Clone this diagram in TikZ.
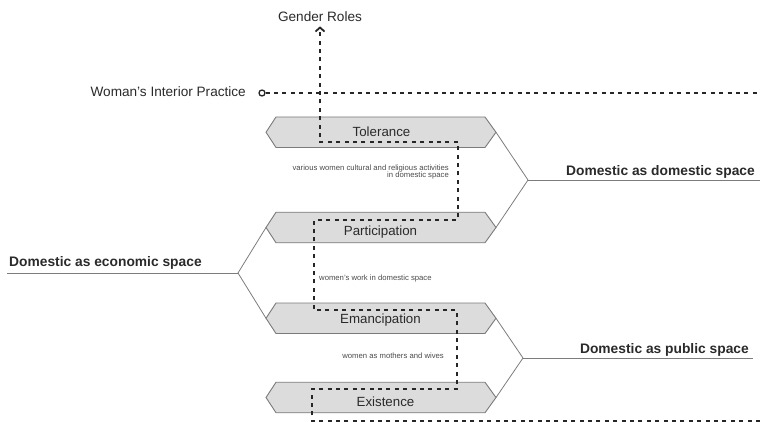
\documentclass[tikz,border=0pt]{standalone}
\usepackage{fontspec}
\setmainfont{Liberation Sans}
\usetikzlibrary{arrows.meta}
\definecolor{txt}{HTML}{2A2A2A}
\definecolor{hexfill}{HTML}{DCDCDC}
\definecolor{hexline}{HTML}{7A7A7A}
\definecolor{branch}{HTML}{7C7C7C}
\tikzset{
  hexbox/.style={fill=hexfill, draw=hexline, line width=0.9pt},
  hexlabel/.style={inner sep=0pt, font=\fontsize{13.3}{15}\selectfont, text=txt, anchor=base},
  biglabel/.style={inner sep=0pt, font=\fontsize{13.6}{16}\selectfont, text=txt},
  boldlabel/.style={inner sep=0pt, font=\fontsize{13.8}{16}\selectfont\bfseries, text=txt},
  smalllabel/.style={inner sep=0pt, font=\fontsize{7.7}{7.5}\selectfont, text=txt!85},
  branchline/.style={draw=branch, line width=0.8pt},
  flow/.style={draw=black!85, line width=1.9pt, dash pattern=on 4pt off 4.4pt},
}
% name, centre y, text baseline, text centre x, text
\newcommand\hexnode[5]{%
  \filldraw[hexbox] (266,#2) -- (276,{#2-15.25}) -- (485,{#2-15.25}) -- (496,#2)
     -- (485,{#2+15.25}) -- (276,{#2+15.25}) -- cycle;
  \node[hexlabel] (#1) at (#4,#3) {#5};
  \coordinate (#1-w) at (266,#2);
  \coordinate (#1-e) at (496,#2);
}
\begin{document}
\begin{tikzpicture}[x=1pt,y=-1pt]
\useasboundingbox (0,0) rectangle (760,422);
% hexagons
\hexnode{tol}{132.25}{137}{381.5}{Tolerance}
\hexnode{par}{227.5}{236}{380.5}{Participation}
\hexnode{ema}{318.25}{323}{380.5}{Emancipation}
\hexnode{exi}{397.5}{406}{385.5}{Existence}
% branch vertices and ends
\coordinate (vdom) at (528,180);
\coordinate (vdomend) at (760,180);
\coordinate (veco) at (238,273);
\coordinate (vecoend) at (7,273);
\coordinate (vpub) at (523,358);
\coordinate (vpubend) at (753,358);
\draw[branchline] (tol-e) -- (vdom) -- (par-e);
\draw[branchline] (vdom) -- (vdomend);
\draw[branchline] (par-w) -- (veco) -- (ema-w);
\draw[branchline] (veco) -- (vecoend);
\draw[branchline] (ema-e) -- (vpub) -- (exi-e);
\draw[branchline] (vpub) -- (vpubend);
% branch labels
\node[boldlabel, anchor=base east] (ldom) at (755,176) {Domestic as domestic space};
\node[boldlabel, anchor=base west] (leco) at (9,266) {Domestic as economic space};
\node[boldlabel, anchor=base east] (lpub) at (749,353) {Domestic as public space};
% woman's interior practice
\node[biglabel, anchor=base east] (wip) at (246,97) {Woman’s Interior Practice};
\node[circle, draw=black!85, fill=white, line width=1.3pt, minimum size=6pt, inner sep=0pt] (wipdot) at (262,93) {};
\coordinate (wipend) at (760,93);
\draw[flow] (wipdot.east) -- (wipend);
% gender roles path
\node[biglabel, anchor=base] (gender) at (320,22) {Gender Roles};
\coordinate (flowstart) at (760,421);
\draw[flow, shorten >=4pt, -{Straight Barb[length=4pt,width=9pt,line width=1.8pt]}]
  (flowstart) -- (312,421) -- (312,389) -- (457,389) -- (457,310) -- (314,310)
  -- (314,220) -- (458,220) -- (458,142) -- (320,142) -- (gender.south);
% small notes
\node[smalllabel, anchor=base east, align=right] (n1) at (449,178)
  {various women cultural and religious activities\\in domestic space};
\node[smalllabel, anchor=base west] (n2) at (319,280) {women’s work in domestic space};
\node[smalllabel, anchor=base east] (n3) at (444,358) {women as mothers and wives};
\end{tikzpicture}
\end{document}
